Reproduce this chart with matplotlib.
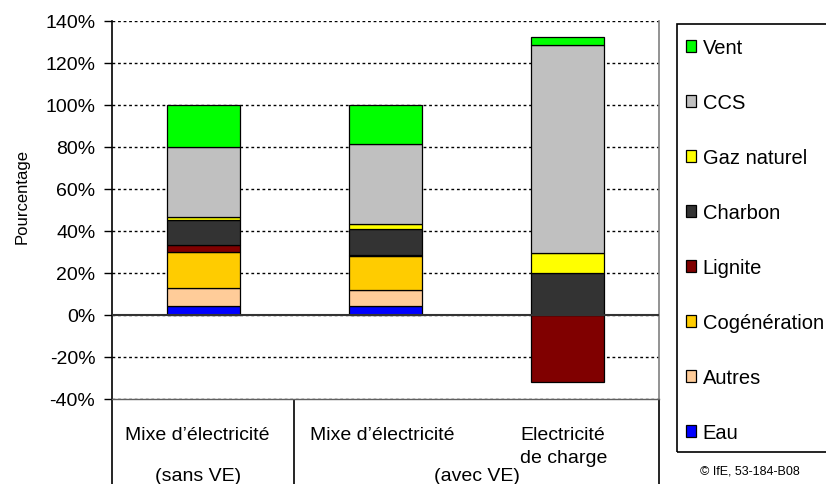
import numpy as np
import matplotlib
matplotlib.use("Agg")
import matplotlib.pyplot as plt
from matplotlib.patches import Rectangle

plt.rcParams['font.family'] = ['Liberation Sans', 'DejaVu Sans']

# stacked shares per case, bottom layer first (percent)
cases = ["sans VE", "avec VE", "charge"]
sources = ["Eau", "Autres", "Cogénération", "Lignite", "Charbon", "Gaz naturel", "CCS", "Vent"]
colors = ["#0000FF", "#FFCC99", "#FFCC00", "#800000", "#333333", "#FFFF00", "#C0C0C0", "#00FF00"]
eau = [4.4, 4.3, 0.0]
autres = [8.3, 7.6, 0.0]
cogeneration = [17.1, 16.0, 0.0]
lignite = [3.5, 0.8, -32.0]
charbon = [12.0, 12.3, 20.0]
gaz = [1.5, 2.2, 9.7]
ccs = [33.0, 38.0, 98.8]
vent = [20.2, 18.8, 3.7]
shares = [eau, autres, cogeneration, lignite, charbon, gaz, ccs, vent]
yticks = [-40, -20, 0, 20, 40, 60, 80, 100, 120, 140]

fig = plt.figure(figsize=(8.26, 4.85), dpi=100)
W, H = 826, 485
ax = fig.add_axes([112 / W, 1 - 400 / H, (659 - 112) / W, (400 - 22) / H])

x = np.arange(len(cases))
pos_base = np.zeros(len(cases))
neg_base = np.zeros(len(cases))
handles = []
for name, vals, col in zip(sources, shares, colors):
    vals = np.array(vals)
    bottom = np.where(vals >= 0, pos_base, neg_base)
    b = ax.bar(x, vals, width=0.4, bottom=bottom, color=col, edgecolor="black",
               linewidth=0.9, label=name, zorder=3)
    handles.append(b)
    pos_base += np.clip(vals, 0, None)
    neg_base += np.clip(vals, None, 0)

ax.set_xlim(-0.5, 2.5)
ax.set_ylim(-40, 140)
ax.set_yticks(yticks)
ax.set_yticklabels([f"{t}%" for t in yticks], fontsize=14)
ax.tick_params(axis="y", length=6, width=1, pad=6)
ax.set_xticks([])
ax.yaxis.grid(True, linestyle=(0, (2, 2)), color="black", linewidth=1)
ax.set_axisbelow(True)
ax.axhline(0, color="#333333", linewidth=1.5, zorder=4)

ax.spines["left"].set_linewidth(1.2)
ax.spines["top"].set_visible(False)
ax.spines["right"].set_color("#808080")
ax.spines["right"].set_linewidth(1.2)
ax.spines["bottom"].set_color("#606060")
ax.spines["bottom"].set_linestyle((0, (2, 1)))
ax.spines["bottom"].set_linewidth(1)

# category table below the plot
ax.vlines([-0.5, 0.5, 2.5], -82, -40, colors="black", linewidth=1.2, clip_on=False)
ax.text(-0.03, -59, "Mixe d\u2019électricité", fontsize=14, ha="center", va="baseline", clip_on=False)
ax.text(-0.03, -78.6, "(sans VE)", fontsize=14, ha="center", va="baseline", clip_on=False)
ax.text(0.98, -59, "Mixe d\u2019électricité", fontsize=14, ha="center", va="baseline", clip_on=False)
ax.text(1.5, -78.6, "(avec VE)", fontsize=14, ha="center", va="baseline", clip_on=False)
ax.text(1.74, -59, "Electricité", fontsize=14, ha="left", va="baseline", clip_on=False)
ax.text(1.74, -70, "de charge", fontsize=14, ha="left", va="baseline", clip_on=False)

fig.text(22 / W, 1 - 196 / H, "Pourcentage", rotation=90, fontsize=12, ha="center", va="center")

# legend with its own frame
fig.patches.append(Rectangle((677 / W, 1 - 452.5 / H), 160 / W, (452.5 - 25) / H,
                             transform=fig.transFigure, fill=False, edgecolor="black", linewidth=1.2))
fig.legend(handles=handles[::-1], loc="upper left", bbox_to_anchor=(686 / W, 1 - 39 / H),
           frameon=False, fontsize=14.5, borderpad=0, borderaxespad=0, handlelength=0.52,
           handleheight=0.52, handletextpad=0.3, labelspacing=1.79)

fig.text(750 / W, 1 - 472 / H, "\u00a9 IfE, 53-184-B08", fontsize=9, ha="center", va="center")

fig.savefig("out.png", dpi=100)
